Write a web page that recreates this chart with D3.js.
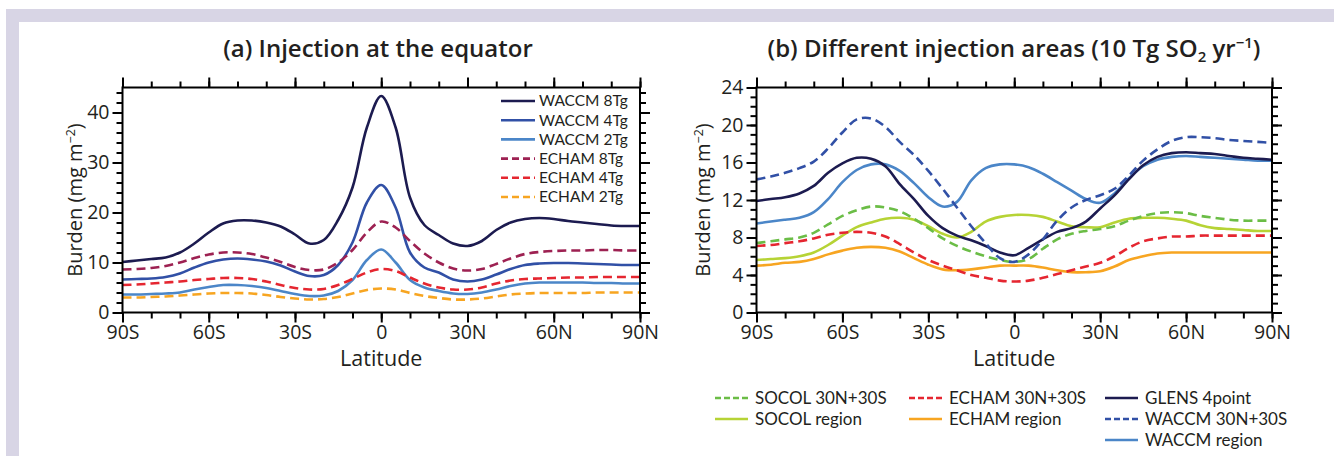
<!DOCTYPE html>
<html>
<head>
<meta charset="utf-8">
<script src="https://cdn.jsdelivr.net/npm/d3@7"></script>
<style>
  body { margin: 0; background: #fff; }
  text { font-family: "Open Sans", "Noto Sans", sans-serif; fill: #231f20; }
  .leg text { font-family: Lato, "Open Sans", sans-serif; }
</style>
</head>
<body>
<div id="chart"></div>
<script>
// latitude grid, 5 degree steps
var lats = d3.range(-90, 91, 5);
var xTicks = [-90, -60, -30, 0, 30, 60, 90];
var xTickLabels = ["90S", "60S", "30S", "0", "30N", "60N", "90N"];

// panel (a) injection at the equator
var waccm8 = [10.1,10.4,10.7,11.0,12.0,13.8,16.0,17.8,18.4,18.4,18.0,17.2,15.6,13.8,14.5,18.5,25.0,37.0,43.3,37.0,23.0,17.5,15.5,13.8,13.3,14.3,16.5,18.0,18.7,18.9,18.7,18.3,18.0,17.7,17.4,17.3,17.3];
var waccm4 = [6.6,6.7,6.8,7.1,7.8,9.0,10.0,10.6,10.8,10.6,10.2,9.4,8.2,7.3,7.5,9.5,14.0,22.0,25.5,21.0,12.0,9.0,8.0,6.6,6.2,6.6,7.6,8.7,9.5,9.8,9.9,9.9,9.8,9.7,9.6,9.5,9.5];
var waccm2 = [3.6,3.6,3.7,3.8,4.0,4.6,5.1,5.5,5.5,5.3,4.9,4.3,3.7,3.3,3.4,4.3,6.5,10.5,12.6,10.0,6.5,5.0,4.3,3.8,3.7,4.0,4.6,5.3,5.8,6.0,6.0,6.0,6.0,5.9,5.9,5.8,5.8];
var echam8 = [8.6,8.7,8.9,9.3,10.0,10.9,11.6,12.0,12.0,11.7,11.0,10.1,9.1,8.5,8.6,10.0,12.5,16.0,18.2,17.0,14.3,11.8,10.0,8.8,8.4,8.7,9.7,10.8,11.7,12.1,12.3,12.4,12.4,12.5,12.5,12.4,12.4];
var echam4 = [5.5,5.6,5.8,6.0,6.2,6.5,6.7,6.9,6.9,6.7,6.2,5.5,4.9,4.6,4.7,5.5,6.7,8.0,8.7,8.3,7.0,5.8,5.0,4.6,4.6,5.0,5.8,6.4,6.7,6.8,6.9,7.0,7.0,7.1,7.1,7.1,7.1];
var echam2 = [3.0,3.0,3.1,3.2,3.4,3.6,3.8,3.9,3.9,3.8,3.5,3.1,2.8,2.6,2.7,3.1,3.8,4.5,4.8,4.6,3.9,3.3,2.9,2.6,2.6,2.8,3.2,3.6,3.8,3.9,3.9,3.9,3.9,4.0,4.0,4.0,4.0];

// panel (b) different injection areas
var socolTwo = [7.4,7.6,7.8,8.0,8.5,9.4,10.3,10.9,11.3,11.2,10.8,10.0,9.0,7.9,7.1,6.5,6.0,5.6,5.4,5.7,6.8,7.8,8.4,8.7,8.9,9.2,9.8,10.3,10.6,10.7,10.6,10.3,10.1,9.9,9.8,9.8,9.8];
var socolRegion = [5.6,5.7,5.8,6.0,6.4,7.2,8.2,9.1,9.6,10.0,10.1,9.9,9.2,8.4,8.0,8.6,9.7,10.2,10.4,10.4,10.2,9.7,9.2,9.1,9.1,9.6,10.0,10.1,10.1,10.0,9.8,9.3,9.0,8.9,8.8,8.7,8.7];
var echamTwo = [7.1,7.2,7.4,7.6,7.9,8.3,8.5,8.6,8.5,8.1,7.3,6.4,5.6,5.0,4.5,4.0,3.7,3.4,3.3,3.4,3.7,4.1,4.5,4.9,5.3,6.0,6.9,7.6,7.9,8.1,8.1,8.2,8.2,8.2,8.2,8.2,8.2];
var echamRegion = [5.0,5.1,5.3,5.4,5.7,6.2,6.6,6.9,7.0,6.9,6.5,5.8,5.1,4.6,4.5,4.6,4.8,5.0,5.0,5.0,4.8,4.5,4.3,4.3,4.4,4.9,5.6,6.0,6.3,6.4,6.4,6.4,6.4,6.4,6.4,6.4,6.4];
var glens = [11.9,12.1,12.3,12.7,13.5,14.9,15.9,16.5,16.4,15.6,13.7,12.1,10.3,9.0,8.2,7.7,7.1,6.4,6.1,6.9,7.8,8.6,9.0,9.7,11.1,12.5,14.2,15.7,16.6,17.0,17.1,17.0,16.9,16.7,16.5,16.4,16.3];
var waccmTwo = [14.2,14.5,14.9,15.4,16.1,17.5,19.2,20.6,20.7,19.8,18.2,16.8,15.1,13.2,11.2,9.2,7.4,5.8,5.4,6.2,7.8,9.8,11.2,12.0,12.5,13.2,14.6,16.2,17.4,18.3,18.7,18.7,18.6,18.4,18.3,18.2,18.1];
var waccmRegion = [9.5,9.7,9.9,10.1,10.7,12.1,13.9,15.2,15.8,15.8,15.1,13.8,12.3,11.3,11.8,14.1,15.4,15.8,15.8,15.5,14.8,13.9,13.0,12.1,11.7,12.7,14.3,15.6,16.3,16.6,16.7,16.6,16.5,16.4,16.3,16.2,16.2];

var navy = "#1c1b50", midBlue = "#3150a6", lightBlue = "#4b86c8";
var maroon = "#9d2152", red = "#e52630", orange = "#f7a521";
var green = "#6bbd46", lime = "#b6d335";
var dash = "9,5";

var seriesA = [
  {name: "WACCM 8Tg", values: waccm8, color: navy},
  {name: "WACCM 4Tg", values: waccm4, color: midBlue},
  {name: "WACCM 2Tg", values: waccm2, color: lightBlue},
  {name: "ECHAM 8Tg", values: echam8, color: maroon, dash: dash},
  {name: "ECHAM 4Tg", values: echam4, color: red, dash: dash},
  {name: "ECHAM 2Tg", values: echam2, color: orange, dash: dash}
];
var seriesB = [
  {name: "ECHAM region", values: echamRegion, color: orange},
  {name: "SOCOL region", values: socolRegion, color: lime},
  {name: "ECHAM 30N+30S", values: echamTwo, color: red, dash: dash},
  {name: "SOCOL 30N+30S", values: socolTwo, color: green, dash: dash},
  {name: "WACCM region", values: waccmRegion, color: lightBlue},
  {name: "GLENS 4point", values: glens, color: navy},
  {name: "WACCM 30N+30S", values: waccmTwo, color: midBlue, dash: dash}
];

var W = 1334, H = 456;
var svg = d3.select("#chart").append("svg").attr("width", W).attr("height", H);

// lavender frame
svg.append("rect").attr("x", 6).attr("y", 9).attr("width", W - 6).attr("height", H - 9).attr("fill", "#d8d5e5");
svg.append("rect").attr("x", 19).attr("y", 22).attr("width", W - 19).attr("height", H - 22).attr("fill", "#fff");

function panel(opt) {
  var x = d3.scaleLinear().domain([-90, 90]).range([opt.left, opt.right]);
  var y = d3.scaleLinear().domain([0, opt.ymax]).range([312.5, 87.5]);
  var g = svg.append("g");

  var line = d3.line()
    .x(function(d, i) { return x(lats[i]); })
    .y(function(d) { return y(d); })
    .curve(d3.curveCatmullRom.alpha(0.5));

  g.selectAll("path.series").data(opt.series).enter().append("path")
    .attr("class", "series")
    .attr("d", function(d) { return line(d.values); })
    .attr("fill", "none")
    .attr("stroke", function(d) { return d.color; })
    .attr("stroke-width", 2.6)
    .attr("stroke-dasharray", function(d) { return d.dash || null; });

  var minorX = d3.range(-90, 91, 10);
  var minorY = d3.range(0, opt.ymax + 0.01, opt.yminor);

  function styleAxis(a) {
    a.select(".domain").remove();
    a.selectAll("line").attr("stroke", "#000").attr("stroke-width", 2);
    a.selectAll("text").attr("font-size", 19.5).style("fill", "#231f20");
  }

  // bottom
  g.append("g").attr("transform", "translate(0," + y(0) + ")")
    .call(d3.axisBottom(x).tickValues(minorX).tickFormat("").tickSize(6)).call(styleAxis);
  g.append("g").attr("transform", "translate(0," + y(0) + ")")
    .call(d3.axisBottom(x).tickValues(xTicks).tickSize(10).tickPadding(3)
      .tickFormat(function(d, i) { return xTickLabels[i]; })).call(styleAxis);
  // top
  g.append("g").attr("transform", "translate(0," + y(opt.ymax) + ")")
    .call(d3.axisTop(x).tickValues(minorX).tickFormat("").tickSize(6)).call(styleAxis);
  g.append("g").attr("transform", "translate(0," + y(opt.ymax) + ")")
    .call(d3.axisTop(x).tickValues(xTicks).tickFormat("").tickSize(10)).call(styleAxis);
  // left
  g.append("g").attr("transform", "translate(" + x(-90) + ",0)")
    .call(d3.axisLeft(y).tickValues(minorY).tickFormat("").tickSize(6)).call(styleAxis);
  g.append("g").attr("transform", "translate(" + x(-90) + ",0)")
    .call(d3.axisLeft(y).tickValues(opt.yticks).tickSize(10).tickPadding(3)).call(styleAxis);
  // right
  g.append("g").attr("transform", "translate(" + x(90) + ",0)")
    .call(d3.axisRight(y).tickValues(minorY).tickFormat("").tickSize(6)).call(styleAxis);
  g.append("g").attr("transform", "translate(" + x(90) + ",0)")
    .call(d3.axisRight(y).tickValues(opt.yticks).tickFormat("").tickSize(10)).call(styleAxis);

  // frame
  g.append("rect")
    .attr("x", x(-90)).attr("y", y(opt.ymax))
    .attr("width", x(90) - x(-90)).attr("height", y(0) - y(opt.ymax))
    .attr("fill", "none").attr("stroke", "#000").attr("stroke-width", 2);

  // axis titles
  g.append("text").attr("x", (x(-90) + x(90)) / 2).attr("y", 366)
    .attr("text-anchor", "middle").attr("font-size", 21.5).text("Latitude");
  var yl = g.append("text")
    .attr("transform", "translate(" + opt.ylabelX + "," + (y(0) + y(opt.ymax)) / 2 + ") rotate(-90)")
    .attr("text-anchor", "middle").attr("font-size", 20);
  yl.append("tspan").text("Burden (mg m");
  yl.append("tspan").attr("font-size", 12.5).attr("dy", -7).text("\u22122");
  yl.append("tspan").attr("dy", 7).text(")");

  return {x: x, y: y, g: g};
}

var pa = panel({left: 122.5, right: 640, ymax: 45, yticks: [0, 10, 20, 30, 40], yminor: 2, series: seriesA, ylabelX: 82});
var pb = panel({left: 756.5, right: 1272, ymax: 24, yticks: [0, 4, 8, 12, 16, 20, 24], yminor: 1, series: seriesB, ylabelX: 710});

// titles
svg.append("text").attr("x", 378).attr("y", 57).attr("text-anchor", "middle")
  .attr("font-size", 24).attr("font-weight", 600).text("(a) Injection at the equator");
var tb = svg.append("text").attr("x", 1014).attr("y", 57).attr("text-anchor", "middle")
  .attr("font-size", 24).attr("font-weight", 600);
tb.append("tspan").text("(b) Different injection areas (10 Tg SO");
tb.append("tspan").attr("font-size", 15).attr("dy", 5).text("2");
tb.append("tspan").attr("dy", -5).text(" yr");
tb.append("tspan").attr("font-size", 15).attr("dy", -9).text("\u22121");
tb.append("tspan").attr("dy", 9).text(")");

// legend (a)
var legA = svg.append("g").attr("class", "leg").selectAll("g").data(seriesA).enter().append("g")
  .attr("transform", function(d, i) { return "translate(501," + (101 + i * 19.2) + ")"; });
legA.append("line").attr("x1", 0).attr("x2", 34)
  .attr("stroke", function(d) { return d.color; }).attr("stroke-width", 2.6)
  .attr("stroke-dasharray", function(d) { return d.dash ? "7,4" : null; });
legA.append("text").attr("x", 38).attr("dy", "0.35em").attr("font-size", 15.5)
  .text(function(d) { return d.name; });

// legend (b)
var legBItems = [
  {name: "SOCOL 30N+30S", color: green, dash: dash, col: 0, row: 0},
  {name: "SOCOL region", color: lime, col: 0, row: 1},
  {name: "ECHAM 30N+30S", color: red, dash: dash, col: 1, row: 0},
  {name: "ECHAM region", color: orange, col: 1, row: 1},
  {name: "GLENS 4point", color: navy, col: 2, row: 0},
  {name: "WACCM 30N+30S", color: midBlue, dash: dash, col: 2, row: 1},
  {name: "WACCM region", color: lightBlue, col: 2, row: 2}
];
var colX = [715, 909, 1105];
var legB = svg.append("g").attr("class", "leg").selectAll("g").data(legBItems).enter().append("g")
  .attr("transform", function(d) { return "translate(" + colX[d.col] + "," + (398 + d.row * 21) + ")"; });
legB.append("line").attr("x1", 0).attr("x2", 33)
  .attr("stroke", function(d) { return d.color; }).attr("stroke-width", 2.6)
  .attr("stroke-dasharray", function(d) { return d.dash ? "6,3" : null; });
legB.append("text").attr("x", 40).attr("dy", "0.35em").attr("font-size", 17)
  .text(function(d) { return d.name; });
</script>
</body>
</html>
